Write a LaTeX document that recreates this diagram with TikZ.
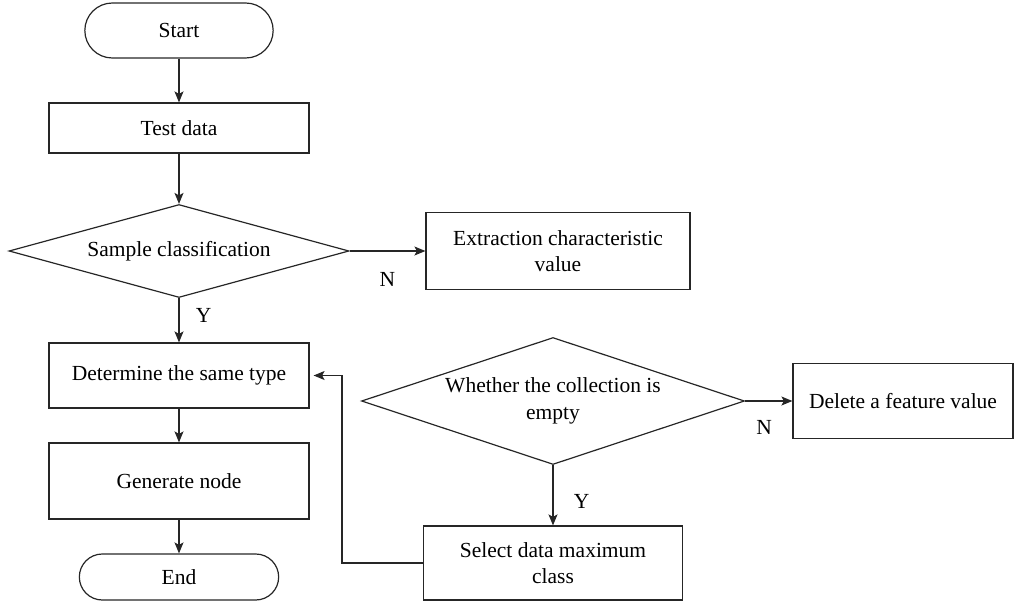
\documentclass[tikz,border=0pt]{standalone}
\usepackage{fontspec}
\setmainfont{Liberation Serif}
\usepackage{tikz}
\usetikzlibrary{arrows,arrows.meta,shapes,calc}

\tikzset{
	terminal/.style={rounded rectangle,draw},
	process/.style={rectangle,draw,align=center,minimum width=260pt},
	decision/.style={diamond,draw,align=center,inner sep=0pt},
	flow/.style={-{Stealth[length=11pt,width=9pt,inset=2.5pt]},draw},
}

\begin{document}
\begin{tikzpicture}[
			x=1pt,y=1pt,
			line width=1.2pt,
			color=black!85,
			text=black,
			font=\fontsize{21.5}{26.5}\selectfont,
			]
			\useasboundingbox (0,0) rectangle (1021,-606);
			\node [terminal,minimum width=195pt,minimum height=55pt] (start) at (179,-30.5) {Start};
			\node [process,minimum height=50pt,below of=start,node distance=97.5pt] (test) {Test data};
			\node [decision,aspect=3.66,minimum width=340pt,minimum height=93pt,below of=test,node distance=123pt] (classify) {Sample classification};
			\node [process,minimum width=264pt,minimum height=77pt,right of=classify,node distance=379pt] (extract) {Extraction characteristic\\ value};
			\node [process,minimum height=65pt,below of=classify,node distance=124.5pt] (sametype) {Determine the same type};
			\node [process,minimum height=76pt,below of=sametype,node distance=105.5pt] (gennode) {Generate node};
			\node [terminal,minimum width=206pt,minimum height=46pt,below of=gennode,node distance=96pt] (stop) {End};
			\node [decision,aspect=3,minimum width=383pt,minimum height=127pt] (empty) at (553,-401) {Whether the collection is\\ empty};
			\node [process,minimum width=220pt,minimum height=75pt,right of=empty,node distance=350pt] (delete) {Delete a feature value};
			\node [process,minimum width=259pt,minimum height=74pt,below of=empty,node distance=162pt] (select) {Select data maximum\\ class};
			\path [flow] (start.south) -- (test.north);
			\path [flow] (test.south) -- (classify.north);
			\path [flow] (classify.east) -- node [below=17pt] {N} (extract.west);
			\path [flow] (classify.south) -- node [pos=0.4,right=13pt] {Y} (sametype.north);
			\path [flow] (sametype.south) -- (gennode.north);
			\path [flow] (gennode.south) -- (stop.north);
			\path [flow] (empty.east) -- node [pos=0.4,below=15pt] {N} (delete.west);
			\path [flow] (empty.south) -- node [pos=0.6,right=17pt] {Y} (select.north);
			\path [flow,shorten >=4pt] (select.west) -- ++(-81pt,0) |- (sametype.east);
		\end{tikzpicture}
\end{document}
